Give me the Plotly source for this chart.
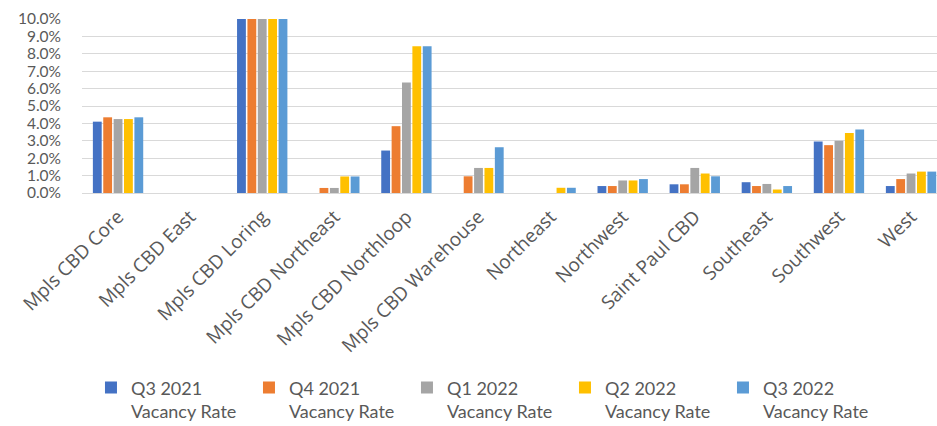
import plotly.graph_objects as go

# Submarkets along the x axis
submarkets = [
    "Mpls CBD Core", "Mpls CBD East", "Mpls CBD Loring", "Mpls CBD Northeast",
    "Mpls CBD Northloop", "Mpls CBD Warehouse", "Northeast", "Northwest",
    "Saint Paul CBD", "Southeast", "Southwest", "West",
]

# Vacancy rates (%) per quarter
q3_2021 = [4.1, 0.0, 12.5, 0.0, 2.44, 0.0, 0.0, 0.4, 0.5, 0.62, 2.96, 0.4]
q4_2021 = [4.35, 0.0, 13.0, 0.29, 3.84, 0.96, 0.0, 0.4, 0.5, 0.4, 2.75, 0.8]
q1_2022 = [4.25, 0.0, 13.5, 0.29, 6.35, 1.44, 0.0, 0.72, 1.44, 0.52, 3.0, 1.12]
q2_2022 = [4.25, 0.0, 14.0, 0.95, 8.44, 1.44, 0.3, 0.72, 1.12, 0.2, 3.45, 1.23]
q3_2022 = [4.35, 0.0, 14.5, 0.95, 8.44, 2.63, 0.3, 0.8, 0.96, 0.4, 3.65, 1.23]

series_names = [
    "Q3 2021<br>Vacancy Rate", "Q4 2021<br>Vacancy Rate", "Q1 2022<br>Vacancy Rate",
    "Q2 2022<br>Vacancy Rate", "Q3 2022<br>Vacancy Rate",
]
series_values = [q3_2021, q4_2021, q1_2022, q2_2022, q3_2022]
colors = ["#4472C4", "#ED7D31", "#A5A5A5", "#FFC000", "#5B9BD5"]

y_ticks = [i for i in range(0, 11)]
y_tick_text = [f"{v:.1f}%" for v in y_ticks]

FONT = "Lato"
TEXT_COLOR = "#595959"

fig = go.Figure()
for name, vals, col in zip(series_names, series_values, colors):
    fig.add_trace(go.Bar(x=submarkets, y=vals, name=name, marker_color=col,
                         marker_line_width=0))

fig.update_layout(
    width=937, height=426,
    margin=dict(l=82, r=0, t=19, b=233),
    paper_bgcolor="white", plot_bgcolor="white",
    barmode="group", bargap=0.28, bargroupgap=0.15,
    font=dict(family=FONT, color=TEXT_COLOR, size=17),
    legend=dict(
        orientation="h", x=0.0105, xanchor="left",
        yref="container", y=0.133, yanchor="top",
        entrywidth=113, entrywidthmode="pixels", valign="top",
        font=dict(family=FONT, size=18, color=TEXT_COLOR),
        itemclick=False, itemdoubleclick=False, tracegroupgap=0,
    ),
    showlegend=True,
)

fig.update_xaxes(
    range=[-0.5, 11.36], tickangle=-45, showgrid=False, showline=False,
    ticks="", automargin=False, ticklabelstandoff=8,
    tickfont=dict(family="Open Sans", size=19, color=TEXT_COLOR),
)
fig.update_yaxes(
    range=[0, 10], tickvals=y_ticks, ticktext=y_tick_text,
    showgrid=True, gridcolor="#D9D9D9", gridwidth=1,
    zeroline=True, zerolinecolor="#D9D9D9", zerolinewidth=1,
    showline=False, ticks="", ticklabelstandoff=20, automargin=False,
    tickfont=dict(family=FONT, size=15.5, color=TEXT_COLOR),
)

fig.write_html("out.html")
